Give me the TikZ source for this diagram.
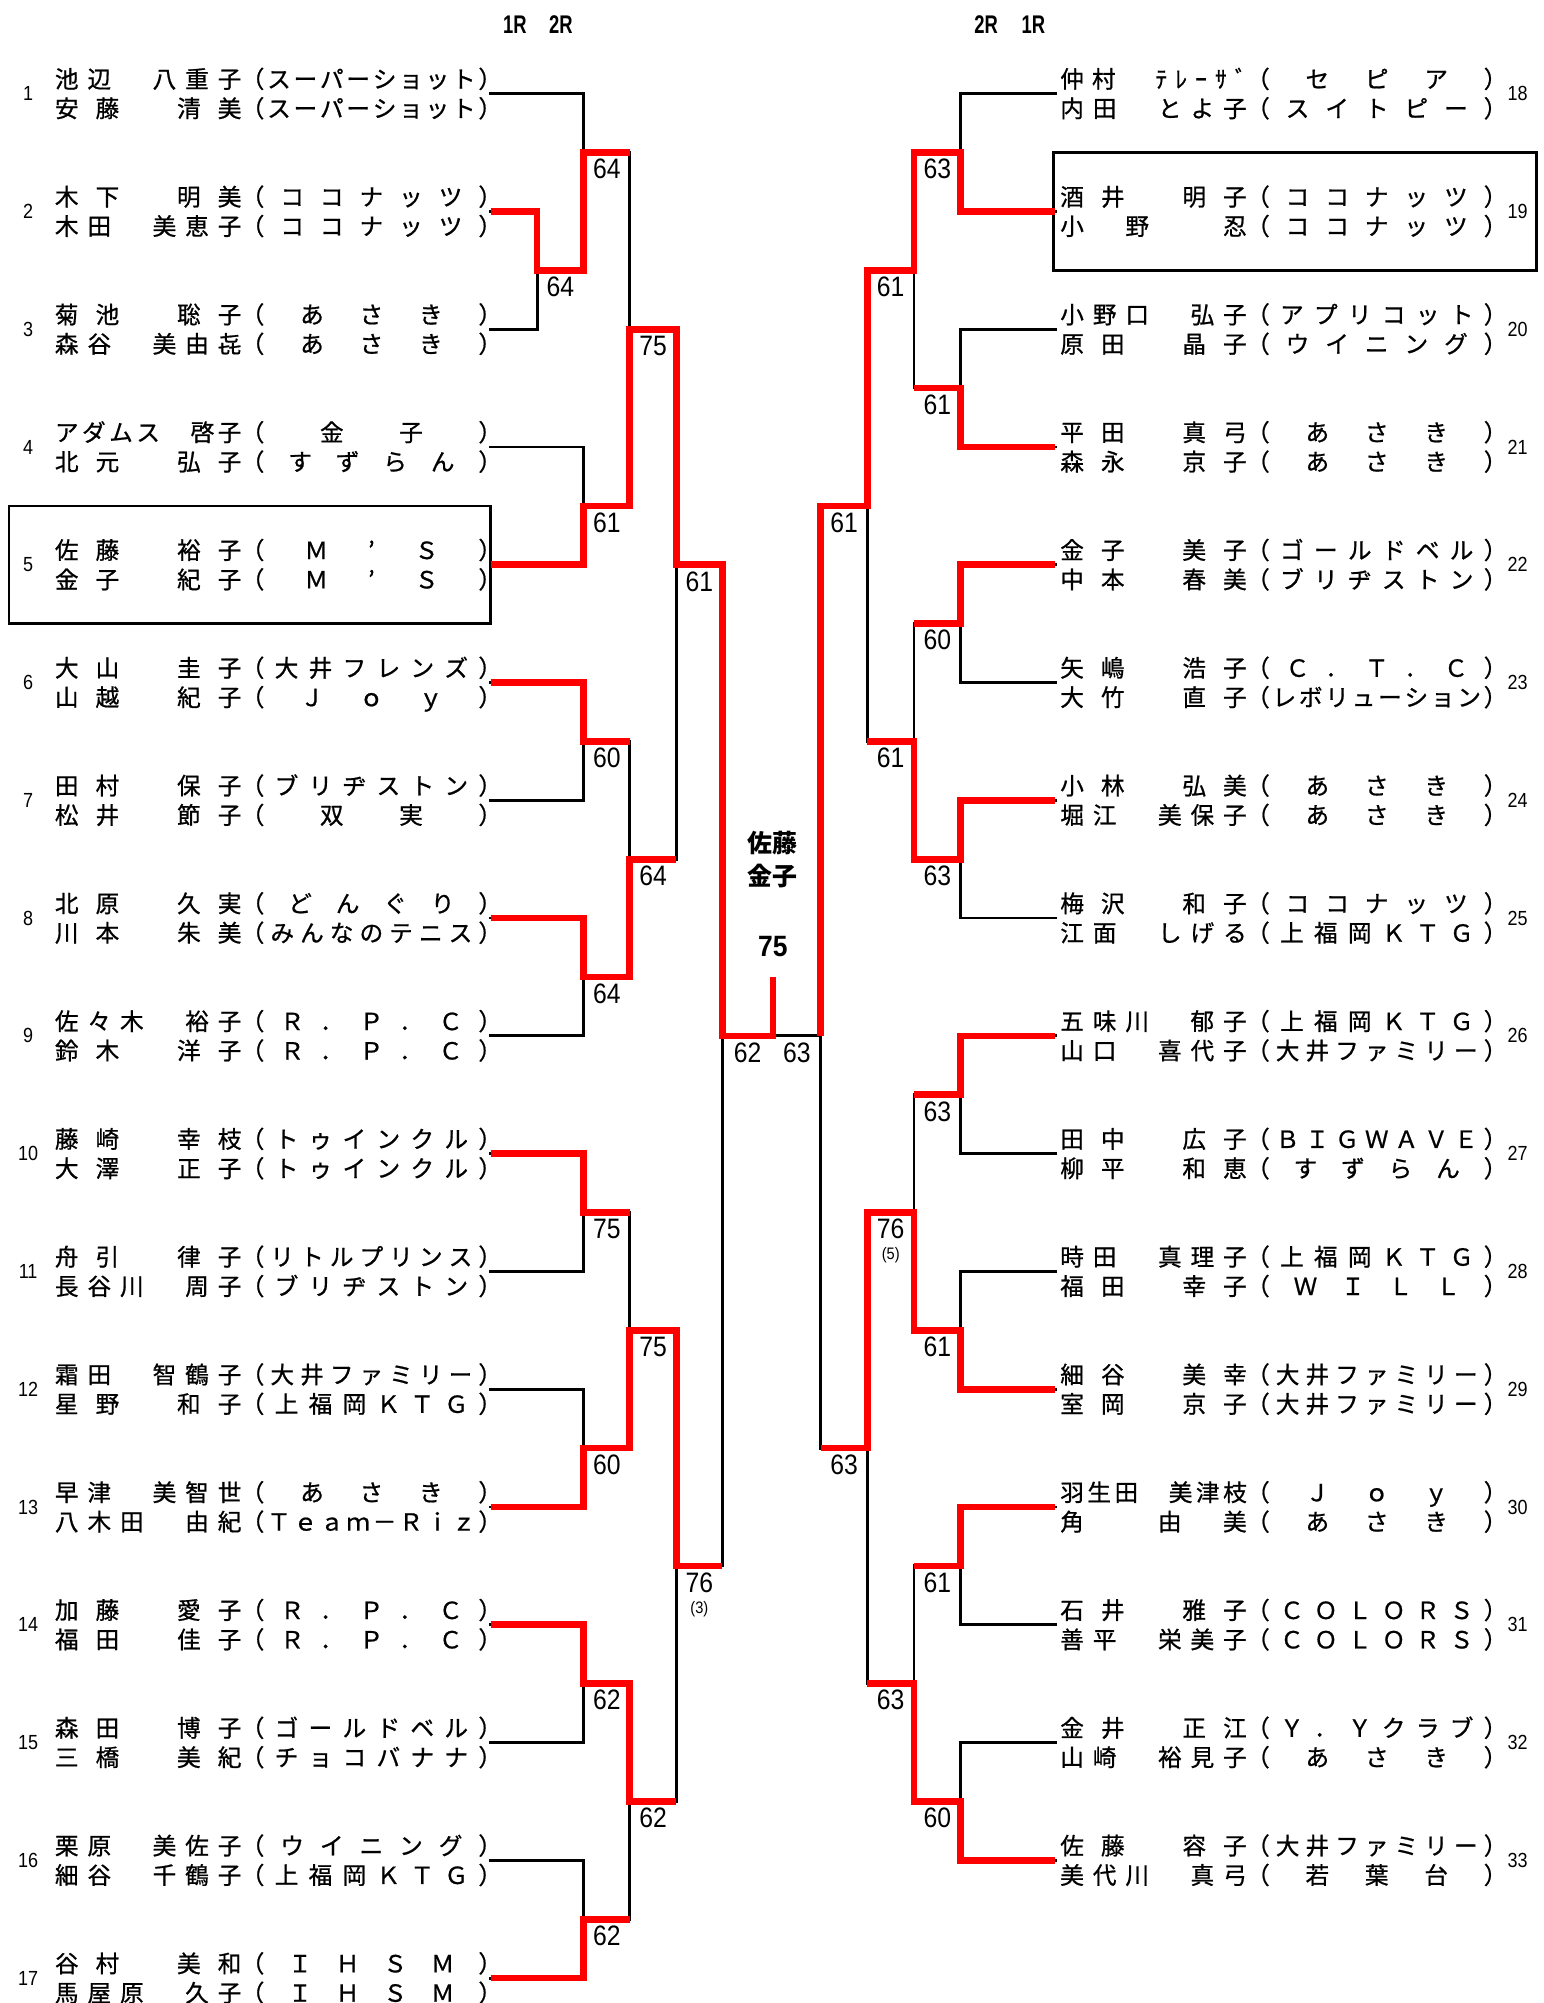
\documentclass[tikz,border=0pt]{standalone}
\usepackage{fontspec}
\newfontfamily\jp{Noto Sans CJK JP}[FakeBold=0.8]
\newfontfamily\jpb{Noto Sans CJK JP}
\newfontfamily\num{Liberation Sans}[FakeStretch=0.88]
\newfontfamily\hdr{Liberation Sans}[FakeStretch=0.72]
\newfontfamily\fin{Liberation Sans}[FakeStretch=0.9]
\ExplSyntaxOn
\NewDocumentCommand\spread{mm}{\hbox~to~#1{\hfilneg\tl_map_inline:nn{#2}{\hfil##1}}}
\ExplSyntaxOff
\tikzset{
  txt/.style={inner sep=0pt, outer sep=0pt, anchor=base west, font=\jp\fontsize{18.5}{20}\selectfont},
  nmb/.style={inner sep=0pt, font=\num\fontsize{16}{18}\selectfont},
  scr/.style={inner sep=0pt, font=\num\fontsize{22}{24}\selectfont},
  sml/.style={inner sep=0pt, font=\num\fontsize{13}{15}\selectfont},
  hd/.style={inner sep=0pt, font=\hdr\bfseries\fontsize{20}{22}\selectfont},
  blk/.style={line width=2.2pt, line cap=rect, black},
  win/.style={line width=5.2pt, red, line join=miter},
  frame/.style={line width=2.2pt, black}
}
% #1 prefix, #2 x0, #3 y, #4 number x, #5 number, #6 name1, #7 club1, #8 name2, #9 club2
\newcommand\ent[9]{%
  \node[nmb] (#1n) at (#4,{#3}) {#5};
  \node[txt] (#1na) at (#2,{#3-4.5}) {\spread{146pt}{#6}};
  \node[txt] (#1ca) at ({#2+145.5},{#3-4.5}) {\spread{204.5pt}{（#7）}};
  \node[txt] (#1nb) at (#2,{#3+18.5}) {\spread{146pt}{#8}};
  \node[txt] (#1cb) at ({#2+145.5},{#3+18.5}) {\spread{204.5pt}{（#9）}};
}
\newcommand\mt[5]{\draw[blk] (#1,{#2}) -- (#1,{#3}) (#1,{#4}) -- (#5,{#4});}
\def\La{384}\def\Lb{420.5}\def\Lc{457}\def\Ld{493}\def\Le{529.5}\def\Lf{565.5}
\def\Cx{605}
\def\Rf{642.5}\def\Re{679}\def\Rd{715.5}\def\Rc{752}\def\Ra{826}
\begin{document}
\begin{tikzpicture}[x=1pt,y=-1pt,
  declare function={Y(\k)=73.3+(\k-1)*92.2; M(\k)=73.3+(\k-0.5)*92.2;}]
\useasboundingbox (0,0) rectangle (1208,1568);
% header
\node[hd] (h1) at (403,19.5) {1R};
\node[hd] (h2) at (439,19.5) {2R};
\node[hd] (h3) at (772,19.5) {2R};
\node[hd] (h4) at (809,19.5) {1R};
% boxes around seeded entries
\draw[frame] (7,{Y(5)-46}) rectangle (384,{Y(5)+46});
\draw[frame] (825,{Y(2)-46}) rectangle (1203,{Y(2)+46});
% ---------- black bracket, left ----------
\foreach \k in {1,4,5,...,17} {\draw[blk] (\La,{Y(\k)}) -- (\Lc,{Y(\k)});}
\draw[blk] (\La,{Y(2)}) -- (\Lb,{Y(2)}) (\La,{Y(3)}) -- (\Lb,{Y(3)});
\mt{\Lb}{Y(2)}{Y(3)}{M(2)}{\Lc}
\mt{\Lc}{Y(1)}{M(2)}{M(1)}{\Ld}
\mt{\Lc}{Y(4)}{Y(5)}{M(4)}{\Ld}
\mt{\Ld}{M(1)}{M(4)}{Y(3)}{\Le}
\mt{\Lc}{Y(6)}{Y(7)}{M(6)}{\Ld}
\mt{\Lc}{Y(8)}{Y(9)}{M(8)}{\Ld}
\mt{\Ld}{M(6)}{M(8)}{M(7)}{\Le}
\mt{\Le}{Y(3)}{M(7)}{Y(5)}{\Lf}
\mt{\Lc}{Y(10)}{Y(11)}{M(10)}{\Ld}
\mt{\Lc}{Y(12)}{Y(13)}{M(12)}{\Ld}
\mt{\Ld}{M(10)}{M(12)}{M(11)}{\Le}
\mt{\Lc}{Y(14)}{Y(15)}{M(14)}{\Ld}
\mt{\Lc}{Y(16)}{Y(17)}{M(16)}{\Ld}
\mt{\Ld}{M(14)}{M(16)}{M(15)}{\Le}
\mt{\Le}{M(11)}{M(15)}{M(13)}{\Lf}
\draw[blk] (\Lf,{Y(5)}) -- (\Lf,{M(13)});
\draw[blk] (\Lf,{Y(9)}) -- (\Rf,{Y(9)});
% ---------- black bracket, right ----------
\foreach \k in {1,...,16} {\draw[blk] (\Ra,{Y(\k)}) -- (\Rc,{Y(\k)});}
\mt{\Rc}{Y(1)}{Y(2)}{M(1)}{\Rd}
\mt{\Rc}{Y(3)}{Y(4)}{M(3)}{\Rd}
\mt{\Rd}{M(1)}{M(3)}{M(2)}{\Re}
\mt{\Rc}{Y(5)}{Y(6)}{M(5)}{\Rd}
\mt{\Rc}{Y(7)}{Y(8)}{M(7)}{\Rd}
\mt{\Rd}{M(5)}{M(7)}{M(6)}{\Re}
\mt{\Re}{M(2)}{M(6)}{M(4)}{\Rf}
\mt{\Rc}{Y(9)}{Y(10)}{M(9)}{\Rd}
\mt{\Rc}{Y(11)}{Y(12)}{M(11)}{\Rd}
\mt{\Rd}{M(9)}{M(11)}{M(10)}{\Re}
\mt{\Rc}{Y(13)}{Y(14)}{M(13)}{\Rd}
\mt{\Rc}{Y(15)}{Y(16)}{M(15)}{\Rd}
\mt{\Rd}{M(13)}{M(15)}{M(14)}{\Re}
\mt{\Re}{M(10)}{M(14)}{M(12)}{\Rf}
\draw[blk] (\Rf,{M(4)}) -- (\Rf,{M(12)});
% ---------- winners (red), left ----------
\draw[win] (\La,{Y(2)}) -| (\Lb,{M(2)}) -| (\Lc,{M(1)}) -- (\Ld,{M(1)});
\draw[win] (\La,{Y(5)}) -| (\Lc,{M(4)}) -| (\Ld,{Y(3)}) -| (\Le,{Y(5)}) -| (\Lf,{Y(9)}) -| (\Cx,{M(8)});
\draw[win] (\La,{Y(6)}) -| (\Lc,{M(6)}) -- (\Ld,{M(6)});
\draw[win] (\La,{Y(8)}) -| (\Lc,{M(8)}) -| (\Ld,{M(7)}) -- (\Le,{M(7)});
\draw[win] (\La,{Y(10)}) -| (\Lc,{M(10)}) -- (\Ld,{M(10)});
\draw[win] (\La,{Y(13)}) -| (\Lc,{M(12)}) -| (\Ld,{M(11)}) -| (\Le,{M(13)}) -- (\Lf,{M(13)});
\draw[win] (\La,{Y(14)}) -| (\Lc,{M(14)}) -| (\Ld,{M(15)}) -- (\Le,{M(15)});
\draw[win] (\La,{Y(17)}) -| (\Lc,{M(16)}) -- (\Ld,{M(16)});
% ---------- winners (red), right ----------
\draw[win] (\Ra,{Y(2)}) -| (\Rc,{M(1)}) -| (\Rd,{M(2)}) -| (\Re,{M(4)}) -| (\Rf,{Y(9)});
\draw[win] (\Ra,{Y(4)}) -| (\Rc,{M(3)}) -- (\Rd,{M(3)});
\draw[win] (\Ra,{Y(5)}) -| (\Rc,{M(5)}) -- (\Rd,{M(5)});
\draw[win] (\Ra,{Y(7)}) -| (\Rc,{M(7)}) -| (\Rd,{M(6)}) -- (\Re,{M(6)});
\draw[win] (\Ra,{Y(9)}) -| (\Rc,{M(9)}) -- (\Rd,{M(9)});
\draw[win] (\Ra,{Y(12)}) -| (\Rc,{M(11)}) -| (\Rd,{M(10)}) -| (\Re,{M(12)}) -- (\Rf,{M(12)});
\draw[win] (\Ra,{Y(13)}) -| (\Rc,{M(13)}) -- (\Rd,{M(13)});
\draw[win] (\Ra,{Y(16)}) -| (\Rc,{M(15)}) -| (\Rd,{M(14)}) -- (\Re,{M(14)});
% ---------- scores, left ----------
\node[scr] (sA) at (438.75,{M(2)+13}) {64};
\node[scr] (sB) at (475,{M(1)+13}) {64};
\node[scr] (sC) at (475,{M(4)+13}) {61};
\node[scr] (sD) at (511.25,{Y(3)+13}) {75};
\node[scr] (sE) at (475,{M(6)+13}) {60};
\node[scr] (sF) at (475,{M(8)+13}) {64};
\node[scr] (sG) at (511.25,{M(7)+13}) {64};
\node[scr] (sH) at (547.5,{Y(5)+13}) {61};
\node[scr] (sI) at (475,{M(10)+13}) {75};
\node[scr] (sJ) at (475,{M(12)+13}) {60};
\node[scr] (sK) at (511.25,{M(11)+13}) {75};
\node[scr] (sM) at (475,{M(14)+13}) {62};
\node[scr] (sN) at (475,{M(16)+13}) {62};
\node[scr] (sO) at (511.25,{M(15)+13}) {62};
\node[scr] (sP) at (547.5,{M(13)+13}) {76};
\node[sml] (sPt) at (547.5,{M(13)+33.7}) {(3)};
\node[scr] (sQ) at (585.25,{Y(9)+13}) {62};
\node[scr] (sR) at (623.75,{Y(9)+13}) {63};
% ---------- scores, right ----------
\node[scr] (t1) at (733.75,{M(1)+13}) {63};
\node[scr] (t2) at (733.75,{M(3)+13}) {61};
\node[scr] (t3) at (697.25,{M(2)+13}) {61};
\node[scr] (t4) at (733.75,{M(5)+13}) {60};
\node[scr] (t5) at (733.75,{M(7)+13}) {63};
\node[scr] (t6) at (697.25,{M(6)+13}) {61};
\node[scr] (t7) at (660.75,{M(4)+13}) {61};
\node[scr] (t8) at (733.75,{M(9)+13}) {63};
\node[scr] (t9) at (733.75,{M(11)+13}) {61};
\node[scr] (t10) at (697.25,{M(10)+13}) {76};
\node[sml] (t10b) at (697.25,{M(10)+33.4}) {(5)};
\node[scr] (t11) at (733.75,{M(13)+13}) {61};
\node[scr] (t12) at (733.75,{M(15)+13}) {60};
\node[scr] (t13) at (697.25,{M(14)+13}) {63};
\node[scr] (t14) at (660.75,{M(12)+13}) {63};
% ---------- champion ----------
\node[inner sep=0pt, font=\jpb\bfseries\fontsize{19.5}{21}\selectfont] (champA) at (605,660.3) {佐藤};
\node[inner sep=0pt, font=\jpb\bfseries\fontsize{19.5}{21}\selectfont] (champB) at (605,685.8) {金子};
\node[inner sep=0pt, font=\fin\bfseries\fontsize{23}{25}\selectfont] (champS) at (605,741.2) {75};
% ---------- entries, left ----------
\ent{e1}{43}{Y(1)}{22}{1}{池辺　八重子}{スーパーショット}{安藤　清美}{スーパーショット}
\ent{e2}{43}{Y(2)}{22}{2}{木下　明美}{ココナッツ}{木田　美恵子}{ココナッツ}
\ent{e3}{43}{Y(3)}{22}{3}{菊池　聡子}{あさき}{森谷　美由㐂}{あさき}
\ent{e4}{43}{Y(4)}{22}{4}{アダムス　啓子}{金子}{北元　弘子}{すずらん}
\ent{e5}{43}{Y(5)}{22}{5}{佐藤　裕子}{Ｍ’Ｓ}{金子　紀子}{Ｍ’Ｓ}
\ent{e6}{43}{Y(6)}{22}{6}{大山　圭子}{大井フレンズ}{山越　紀子}{Ｊｏｙ}
\ent{e7}{43}{Y(7)}{22}{7}{田村　保子}{ブリヂストン}{松井　節子}{双実}
\ent{e8}{43}{Y(8)}{22}{8}{北原　久実}{どんぐり}{川本　朱美}{みんなのテニス}
\ent{e9}{43}{Y(9)}{22}{9}{佐々木　裕子}{Ｒ．Ｐ．Ｃ}{鈴木　洋子}{Ｒ．Ｐ．Ｃ}
\ent{e10}{43}{Y(10)}{22}{10}{藤崎　幸枝}{トゥインクル}{大澤　正子}{トゥインクル}
\ent{e11}{43}{Y(11)}{22}{11}{舟引　律子}{リトルプリンス}{長谷川　周子}{ブリヂストン}
\ent{e12}{43}{Y(12)}{22}{12}{霜田　智鶴子}{大井ファミリー}{星野　和子}{上福岡ＫＴＧ}
\ent{e13}{43}{Y(13)}{22}{13}{早津　美智世}{あさき}{八木田　由紀}{Ｔｅａｍ－Ｒｉｚ}
\ent{e14}{43}{Y(14)}{22}{14}{加藤　愛子}{Ｒ．Ｐ．Ｃ}{福田　佳子}{Ｒ．Ｐ．Ｃ}
\ent{e15}{43}{Y(15)}{22}{15}{森田　博子}{ゴールドベル}{三橋　美紀}{チョコバナナ}
\ent{e16}{43}{Y(16)}{22}{16}{栗原　美佐子}{ウイニング}{細谷　千鶴子}{上福岡ＫＴＧ}
\ent{e17}{43}{Y(17)}{22}{17}{谷村　美和}{ＩＨＳＭ}{馬屋原　久子}{ＩＨＳＭ}
% ---------- entries, right ----------
\ent{e18}{830}{Y(1)}{1188}{18}{仲村　ﾃﾚｰｻﾞ}{セピア}{内田　とよ子}{スイトピー}
\ent{e19}{830}{Y(2)}{1188}{19}{酒井　明子}{ココナッツ}{小　野　　忍}{ココナッツ}
\ent{e20}{830}{Y(3)}{1188}{20}{小野口　弘子}{アプリコット}{原田　晶子}{ウイニング}
\ent{e21}{830}{Y(4)}{1188}{21}{平田　真弓}{あさき}{森永　京子}{あさき}
\ent{e22}{830}{Y(5)}{1188}{22}{金子　美子}{ゴールドベル}{中本　春美}{ブリヂストン}
\ent{e23}{830}{Y(6)}{1188}{23}{矢嶋　浩子}{Ｃ．Ｔ．Ｃ}{大竹　直子}{レボリューション}
\ent{e24}{830}{Y(7)}{1188}{24}{小林　弘美}{あさき}{堀江　美保子}{あさき}
\ent{e25}{830}{Y(8)}{1188}{25}{梅沢　和子}{ココナッツ}{江面　しげる}{上福岡ＫＴＧ}
\ent{e26}{830}{Y(9)}{1188}{26}{五味川　郁子}{上福岡ＫＴＧ}{山口　喜代子}{大井ファミリー}
\ent{e27}{830}{Y(10)}{1188}{27}{田中　広子}{ＢＩＧＷＡＶＥ}{柳平　和恵}{すずらん}
\ent{e28}{830}{Y(11)}{1188}{28}{時田　真理子}{上福岡ＫＴＧ}{福田　幸子}{ＷＩＬＬ}
\ent{e29}{830}{Y(12)}{1188}{29}{細谷　美幸}{大井ファミリー}{室岡　京子}{大井ファミリー}
\ent{e30}{830}{Y(13)}{1188}{30}{羽生田　美津枝}{Ｊｏｙ}{角　　由　美}{あさき}
\ent{e31}{830}{Y(14)}{1188}{31}{石井　雅子}{ＣＯＬＯＲＳ}{善平　栄美子}{ＣＯＬＯＲＳ}
\ent{e32}{830}{Y(15)}{1188}{32}{金井　正江}{Ｙ．Ｙクラブ}{山崎　裕見子}{あさき}
\ent{e33}{830}{Y(16)}{1188}{33}{佐藤　容子}{大井ファミリー}{美代川　真弓}{若葉台}
\end{tikzpicture}
\end{document}
